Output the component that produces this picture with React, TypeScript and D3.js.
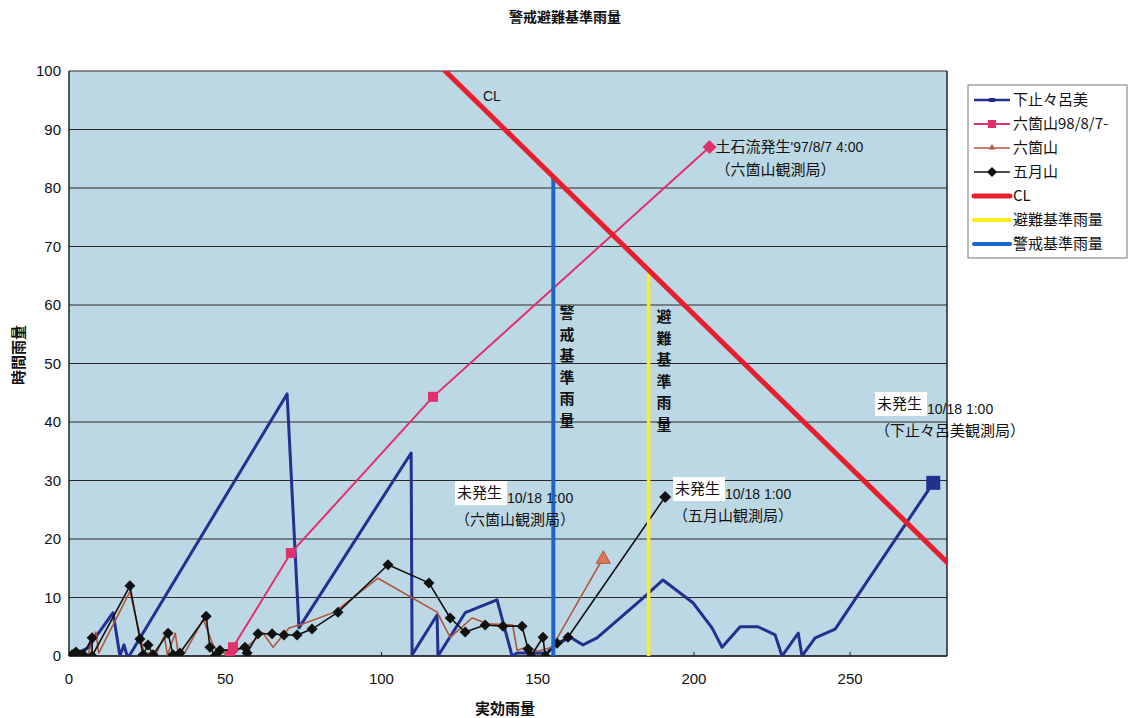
import React from "react";
import * as d3 from "d3";

// 実効雨量 (x) vs 時間雨量 (y) for each observation station
const shimoTodoromi: [number, number][] = [
  [1, 0.7], [2.2, 0.7], [3.5, 0.7], [6.1, 1.4], [14.1, 7.4], [16.3, 0], [17.6, 1.9], [18.6, 0],
  [19.5, 0.2], [69.8, 44.8], [73.6, 4.8], [109.5, 34.7], [109.8, 0.2], [117.8, 7.0], [118.1, 0],
  [126.8, 7.4], [137, 9.6], [141.8, 0], [143.4, 0.5], [153, 0.5], [154.6, 1.5], [160.4, 3.2],
  [164.5, 1.9], [169, 3.1], [176.4, 6.5], [183.7, 9.9], [190.1, 13], [199.7, 9.1], [205.8, 4.8],
  [209, 1.5], [214.8, 5], [220.5, 5], [226, 3.6], [228.2, 0], [233.4, 3.9], [234.6, 0],
  [238.8, 3.1], [245.2, 4.6], [276.6, 29.6],
];

const rokkasan98: [number, number][] = [
  [51.5, 0], [52.5, 1.5], [71, 17.6], [116.5, 44.3], [205, 87],
];

const rokkasan: [number, number][] = [
  [1, 0.5], [3, 0.5], [6, 0.2], [8.6, 4.1], [9.5, 0.5], [19.5, 11], [22.7, 3.6], [24, 0.5],
  [26, 0.5], [28, 0.5], [30.5, 3.5], [31.5, 0.2], [34, 3.9], [35, 0.2], [37, 0.5], [43, 6.3],
  [46, 2], [48, 0.3], [52, 1], [55, 1.2], [58, 2], [62, 4], [65.3, 1.5], [70.4, 4.8],
  [75, 5.5], [85, 7.5], [98.9, 13.3], [117.8, 7.5], [122, 3.2], [129, 6.5], [134, 5.5],
  [142, 5.3], [143.4, 1], [146.6, 1.5], [150, 0.8], [154.6, 1.5], [171, 16.8],
];

const satsukiyama: [number, number][] = [
  [1, 0.2], [2.2, 0.7], [3.5, 0.2], [4.5, 0.2], [7.4, 3.1], [7.4, 0], [19.5, 12], [22.7, 2.9],
  [23.7, 0.2], [25.3, 1.9], [26.9, 0.2], [31.7, 3.9], [33.3, 0.2], [35.5, 0.5], [43.9, 6.8],
  [45.1, 1.5], [46.7, 0], [48.3, 1], [52.5, 1], [56.3, 1.5], [57, 0.5], [60.5, 3.8], [65, 3.8],
  [68.8, 3.6], [73, 3.6], [77.8, 4.6], [86.1, 7.5], [102.1, 15.6], [115.2, 12.5], [122, 6.5],
  [126.8, 4.1], [133.2, 5.3], [138.9, 5.1], [145, 5.1], [146.9, 1.2], [147.9, 0], [151.7, 3.2],
  [152.4, 0], [156.2, 2.2], [159.7, 3.2], [190.8, 27.2],
];

// Critical line and reference rainfall levels
const criticalLine: [number, number][] = [[118.5, 101], [283, 15]];
const evacuationLine: [number, number][] = [[185.5, 0], [185.5, 66]];
const warningLine: [number, number][] = [[155, 0], [155, 82]];

const xTicks = [0, 50, 100, 150, 200, 250];
const yTicks = [0, 10, 20, 30, 40, 50, 60, 70, 80, 90, 100];

const legendItems = [
  { label: "下止々呂美", key: "shimo" },
  { label: "六箇山98/8/7-", key: "r98" },
  { label: "六箇山", key: "rok" },
  { label: "五月山", key: "sat" },
  { label: "CL", key: "cl" },
  { label: "避難基準雨量", key: "ev" },
  { label: "警戒基準雨量", key: "wa" },
];

const C = {
  navy: "#23308f",
  pink: "#e2306c",
  brown: "#b0553c",
  black: "#111111",
  red: "#e61f2e",
  yellow: "#ffec1a",
  blue: "#1c64c8",
  bg: "#bcd8e5",
};

const FONT = "'Liberation Sans', 'Noto Sans CJK JP', sans-serif";
const JP = "'Noto Sans CJK JP', 'Liberation Sans', sans-serif";

const left = 69, right = 947, top = 71, bottom = 656;
const x = d3.scaleLinear().domain([0, 281]).range([left, right]);
const y = d3.scaleLinear().domain([0, 100]).range([bottom, top]);
const line = d3.line<[number, number]>().x((d) => x(d[0])).y((d) => y(d[1]));

const diamond = (cx: number, cy: number, r: number) =>
  `M${cx},${cy - r}L${cx + r},${cy}L${cx},${cy + r}L${cx - r},${cy}Z`;
const triangle = (cx: number, cy: number, r: number) =>
  `M${cx},${cy - r}L${cx + r},${cy + r * 0.8}L${cx - r},${cy + r * 0.8}Z`;

function VerticalText({ text, cx, y0, step }: { text: string; cx: number; y0: number; step: number }) {
  return (
    <g>
      {Array.from(text).map((ch, i) => (
        <text key={i} x={cx} y={y0 + i * step} textAnchor="middle" fontFamily={JP} fontSize={15} fontWeight={700} fill="#111">
          {ch}
        </text>
      ))}
    </g>
  );
}

function Note({ px, py, time, station }: { px: number; py: number; time: string; station: string }) {
  return (
    <g fontFamily={JP} fontSize={15} fill="#111">
      <rect x={px} y={py - 16} width={52} height={24} fill="#ffffff" />
      <text x={px + 2} y={py + 1}>未発生</text>
      <text x={px + 52} y={py + 6} fontFamily={FONT} fontSize={14}>{time}</text>
      <text x={px} y={py + 28}>{station}</text>
    </g>
  );
}

function LegendSample({ k, x0, cy }: { k: string; x0: number; cy: number }) {
  const x1 = x0 + 36;
  const mid = (x0 + x1) / 2;
  switch (k) {
    case "shimo":
      return (
        <g>
          <line x1={x0} x2={x1} y1={cy} y2={cy} stroke={C.navy} strokeWidth={2.5} />
          <rect x={mid - 3} y={cy - 2} width={6} height={4} fill={C.navy} />
        </g>
      );
    case "r98":
      return (
        <g>
          <line x1={x0} x2={x1} y1={cy} y2={cy} stroke={C.pink} strokeWidth={2} />
          <rect x={mid - 4} y={cy - 4} width={8} height={8} fill={C.pink} />
        </g>
      );
    case "rok":
      return (
        <g>
          <line x1={x0} x2={x1} y1={cy} y2={cy} stroke={C.brown} strokeWidth={1.5} />
          <path d={triangle(mid, cy - 1, 3)} fill={C.brown} />
        </g>
      );
    case "sat":
      return (
        <g>
          <line x1={x0} x2={x1} y1={cy} y2={cy} stroke={C.black} strokeWidth={1.5} />
          <path d={diamond(mid, cy, 5)} fill={C.black} />
        </g>
      );
    case "cl":
      return <line x1={x0} x2={x1} y1={cy} y2={cy} stroke={C.red} strokeWidth={5} strokeLinecap="round" />;
    case "ev":
      return <line x1={x0} x2={x1} y1={cy} y2={cy} stroke={C.yellow} strokeWidth={4} strokeLinecap="round" />;
    default:
      return <line x1={x0} x2={x1} y1={cy} y2={cy} stroke={C.blue} strokeWidth={4} strokeLinecap="round" />;
  }
}

export default function App() {
  const last98 = rokkasan98[rokkasan98.length - 1];
  const lastRok = rokkasan[rokkasan.length - 1];
  const lastSat = satsukiyama[satsukiyama.length - 1];
  const lastShimo = shimoTodoromi[shimoTodoromi.length - 1];

  return (
    <svg width={1131} height={718} style={{ position: "absolute", left: 0, top: 0, background: "#fff" }}>
      <defs>
        <clipPath id="plot-clip">
          <rect x={left} y={top} width={right - left} height={bottom - top} />
        </clipPath>
      </defs>

      {/* title */}
      <text x={565} y={22} textAnchor="middle" fontFamily={JP} fontSize={14} fontWeight={700} fill="#111">
        警戒避難基準雨量
      </text>

      {/* plot area */}
      <rect x={left} y={top} width={right - left} height={bottom - top} fill={C.bg} />
      {yTicks.map((t) => (
        <line key={t} x1={left} x2={right} y1={y(t)} y2={y(t)} stroke="#2a2a2a" strokeWidth={1.2} />
      ))}
      <line x1={left} x2={left} y1={top} y2={bottom} stroke="#222" strokeWidth={1.5} />
      <line x1={right} x2={right} y1={top} y2={bottom} stroke="#222" strokeWidth={1.5} />
      <line x1={left} x2={right} y1={bottom} y2={bottom} stroke="#222" strokeWidth={1.5} />
      {xTicks.map((t) => (
        <line key={t} x1={x(t)} x2={x(t)} y1={bottom} y2={bottom - 4} stroke="#222" strokeWidth={1} />
      ))}

      {/* axis tick labels */}
      {yTicks.map((t) => (
        <text key={t} x={left - 8} y={y(t) + 5} textAnchor="end" fontFamily={FONT} fontSize={15} fill="#111">
          {t}
        </text>
      ))}
      {xTicks.map((t) => (
        <text key={t} x={x(t)} y={684} textAnchor="middle" fontFamily={FONT} fontSize={15} fill="#111">
          {t}
        </text>
      ))}

      {/* axis titles */}
      <text x={505} y={714} textAnchor="middle" fontFamily={JP} fontSize={15} fontWeight={700} fill="#111">
        実効雨量
      </text>
      <text
        transform={`translate(24,355) rotate(-90)`}
        textAnchor="middle"
        fontFamily={JP}
        fontSize={15}
        fontWeight={700}
        fill="#111"
      >
        時間雨量
      </text>

      <g clipPath="url(#plot-clip)">
        {/* station series */}
        <path d={line(shimoTodoromi) || ""} fill="none" stroke={C.navy} strokeWidth={3} strokeLinejoin="round" />
        <path d={line(rokkasan) || ""} fill="none" stroke={C.brown} strokeWidth={1.6} strokeLinejoin="round" />
        <path d={line(satsukiyama) || ""} fill="none" stroke={C.black} strokeWidth={1.6} strokeLinejoin="round" />
        {satsukiyama.slice(0, -1).map((d, i) => (
          <path key={i} d={diamond(x(d[0]), y(d[1]), 5.5)} fill={C.black} />
        ))}
        <path d={line(rokkasan98) || ""} fill="none" stroke={C.pink} strokeWidth={2} />
        {rokkasan98.slice(0, -1).map((d, i) => (
          <rect key={i} x={x(d[0]) - 5} y={y(d[1]) - 5} width={10} height={10} fill={C.pink} />
        ))}

        {/* reference levels */}
        <path d={line(warningLine) || ""} stroke={C.blue} strokeWidth={4} fill="none" />
        <path d={line(evacuationLine) || ""} stroke={C.yellow} strokeWidth={3.5} fill="none" />
        <path d={line(criticalLine) || ""} stroke={C.red} strokeWidth={5} fill="none" />

        {/* final points of each event */}
        <path d={diamond(x(last98[0]), y(last98[1]), 7)} fill={C.pink} />
        <path d={triangle(x(lastRok[0]), y(lastRok[1]), 7)} fill="#d9785a" stroke={C.brown} strokeWidth={1} />
        <path d={diamond(x(lastSat[0]), y(lastSat[1]), 6)} fill={C.black} />
        <rect x={x(lastShimo[0]) - 7} y={y(lastShimo[1]) - 7} width={14} height={14} fill={C.navy} />
      </g>

      {/* annotations */}
      <text x={483} y={101} fontFamily={FONT} fontSize={14} fill="#111">CL</text>
      <g fontFamily={JP} fontSize={15} fill="#111">
        <text x={x(last98[0]) + 6} y={y(last98[1]) + 5}>
          土石流発生<tspan fontFamily={FONT} fontSize={14}>'97/8/7 4:00</tspan>
        </text>
        <text x={x(last98[0]) + 6} y={y(last98[1]) + 28}>（六箇山観測局）</text>
      </g>
      <VerticalText text="警戒基準雨量" cx={567} y0={318} step={21.5} />
      <VerticalText text="避難基準雨量" cx={664} y0={322} step={21.5} />
      <Note px={455} py={497} time="10/18 1:00" station="（六箇山観測局）" />
      <Note px={673} py={493} time="10/18 1:00" station="（五月山観測局）" />
      <Note px={875} py={408} time="10/18 1:00" station="（下止々呂美観測局）" />

      {/* legend */}
      <rect x={968} y={85} width={159} height={173} fill="#ffffff" stroke="#777" strokeWidth={1} />
      {legendItems.map((it, i) => {
        const cy = 100 + i * 24;
        return (
          <g key={it.key}>
            <LegendSample k={it.key} x0={974} cy={cy} />
            <text x={1013} y={cy + 5} fontFamily={JP} fontSize={15} fill="#111">
              {it.label}
            </text>
          </g>
        );
      })}
    </svg>
  );
}
